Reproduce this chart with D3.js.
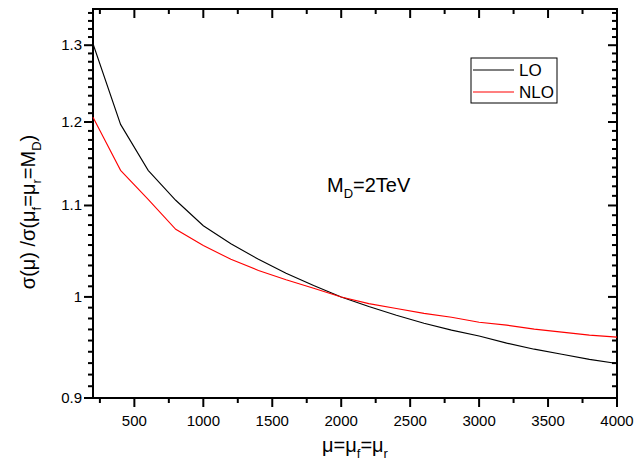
<!doctype html>
<html lang="en">
<head>
<meta charset="utf-8">
<title>Scale dependence</title>
<style>
  body { margin: 0; background: #fff; }
  svg text { font-family: "Liberation Sans", Arial, sans-serif; }
</style>
</head>
<body>
<div id="chart"></div>
<script src="https://cdn.jsdelivr.net/npm/d3@7"></script>
<script>
// scale mu (GeV)
const mu = [200, 400, 600, 800, 1000, 1200, 1400, 1600, 1800, 2000,
            2200, 2400, 2600, 2800, 3000, 3200, 3400, 3600, 3800, 4000];
// sigma(mu)/sigma(mu=M_D), LO and NLO
const lo  = [1.302, 1.197, 1.141, 1.106, 1.077, 1.057, 1.040, 1.025, 1.012, 1.000,
             0.990, 0.981, 0.973, 0.966, 0.960, 0.953, 0.947, 0.942, 0.937, 0.933];
const nlo = [1.206, 1.141, 1.107, 1.073, 1.055, 1.040, 1.028, 1.018, 1.009, 1.000,
             0.993, 0.988, 0.983, 0.979, 0.974, 0.971, 0.967, 0.964, 0.961, 0.959];
const xTicks = [500, 1000, 1500, 2000, 2500, 3000, 3500, 4000];
const yTicks = [0.9, 1.0, 1.1, 1.2, 1.3];
const yTickLabels = ["0.9", "1", "1.1", "1.2", "1.3"];

const W = 635, H = 465;
const margin = {left: 93, right: 18, top: 9, bottom: 67};
const pw = W - margin.left - margin.right, ph = H - margin.top - margin.bottom;

const svg = d3.select("#chart").append("svg").attr("width", W).attr("height", H);
const g = svg.append("g").attr("transform", `translate(${margin.left},${margin.top})`);

const x = d3.scaleLinear().domain([200, 4000]).range([0, pw]);
const y = d3.scaleLog().domain([0.9, 1.35]).range([ph, 0]);

// minor ticks: x halfway, y 8 between majors (even in value)
const xMinor = d3.range(250, 4000, 500);
const yMinor = [];
yTicks.forEach(v => {
  for (let k = 1; k <= 8; k++) {
    const t = v + k * 0.1 / 9;
    if (t < 1.35) yMinor.push(t);
  }
});

// frame
g.append("rect").attr("width", pw).attr("height", ph)
  .attr("fill", "none").attr("stroke", "#000").attr("stroke-width", 2);

// tick marks: bottom/left outward, top/right inward
const tickG = g.append("g").attr("stroke", "#000").attr("stroke-width", 2);
function addTick(x1, y1, x2, y2) {
  tickG.append("line").attr("x1", x1).attr("y1", y1).attr("x2", x2).attr("y2", y2);
}
[[xTicks, 9], [xMinor, 5]].forEach(([vals, len]) => {
  vals.forEach(v => {
    addTick(x(v), ph, x(v), ph + len);
    addTick(x(v), 0, x(v), len);
  });
});
[[yTicks, 9], [yMinor, 5]].forEach(([vals, len]) => {
  vals.forEach(v => {
    addTick(0, y(v), -len, y(v));
    addTick(pw, y(v), pw - len, y(v));
  });
});

// tick labels
xTicks.forEach(v => {
  g.append("text").attr("x", x(v)).attr("y", ph + 28)
    .attr("text-anchor", "middle").attr("font-size", 15).text(v);
});
yTicks.forEach((v, i) => {
  g.append("text").attr("x", -11).attr("y", y(v) + 5)
    .attr("text-anchor", "end").attr("font-size", 15).text(yTickLabels[i]);
});

// curves
const line = d3.line().x(d => x(d[0])).y(d => y(d[1]));
g.append("path").datum(mu.map((m, i) => [m, lo[i]]))
  .attr("d", line).attr("fill", "none").attr("stroke", "#000").attr("stroke-width", 1.1);
g.append("path").datum(mu.map((m, i) => [m, nlo[i]]))
  .attr("d", line).attr("fill", "none").attr("stroke", "#ff0000").attr("stroke-width", 1.1);

// legend
const leg = svg.append("g").attr("transform", "translate(471,58)");
leg.append("rect").attr("width", 86).attr("height", 45)
  .attr("fill", "#fff").attr("stroke", "#000").attr("stroke-width", 1);
[["LO", "#000", 12], ["NLO", "#ff0000", 34]].forEach(([name, col, yy]) => {
  leg.append("line").attr("x1", 2).attr("x2", 43).attr("y1", yy).attr("y2", yy)
    .attr("stroke", col).attr("stroke-width", 1.1);
  leg.append("text").attr("x", 48).attr("y", yy + 6).attr("font-size", 17).text(name);
});

// annotation
const ann = svg.append("text").attr("x", 327).attr("y", 192).attr("font-size", 20);
ann.append("tspan").text("M");
ann.append("tspan").attr("font-size", 13).attr("dy", 6).text("D");
ann.append("tspan").attr("dy", -6).text("=2TeV");

// x label
const xl = svg.append("text").attr("x", 355).attr("y", 452).attr("text-anchor", "middle").attr("font-size", 20);
xl.append("tspan").text("μ=μ");
xl.append("tspan").attr("font-size", 13).attr("dy", 6).text("f");
xl.append("tspan").attr("dy", -6).text("=μ");
xl.append("tspan").attr("font-size", 13).attr("dy", 6).text("r");

// y label
const yl = svg.append("text").attr("transform", "translate(35,212) rotate(-90)")
  .attr("text-anchor", "middle").attr("font-size", 20);
yl.append("tspan").text("σ(μ) /σ(μ");
yl.append("tspan").attr("font-size", 13).attr("dy", 6).text("f");
yl.append("tspan").attr("dy", -6).text("=μ");
yl.append("tspan").attr("font-size", 13).attr("dy", 6).text("r");
yl.append("tspan").attr("dy", -6).text("=M");
yl.append("tspan").attr("font-size", 13).attr("dy", 6).text("D");
yl.append("tspan").attr("dy", -6).text(")");
</script>
</body>
</html>
